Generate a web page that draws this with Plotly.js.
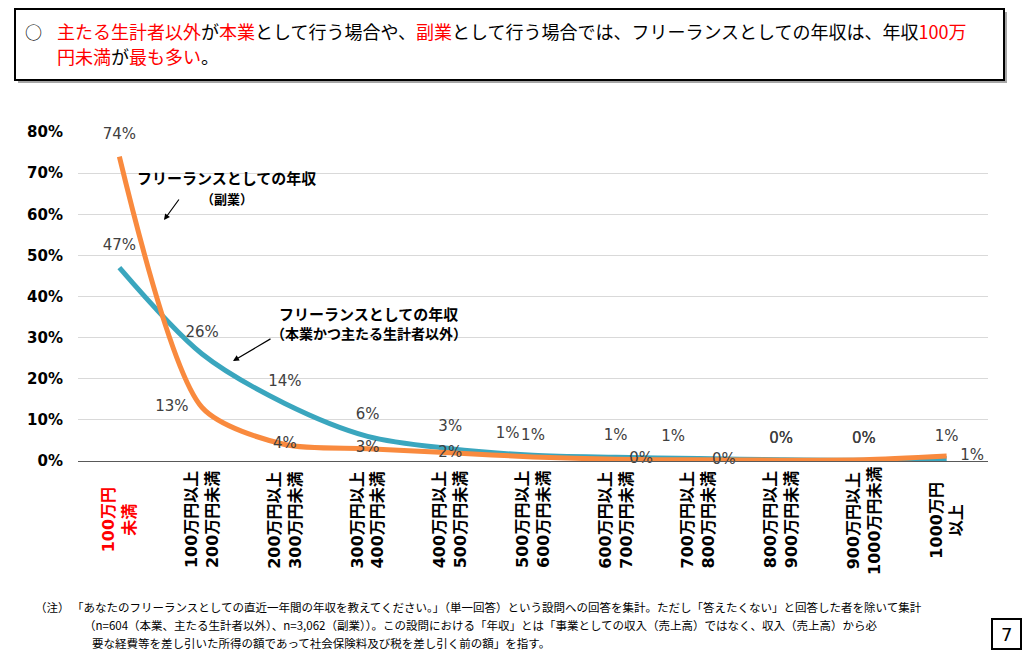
<!DOCTYPE html>
<html>
<head>
<meta charset="utf-8">
<script src="https://cdn.plot.ly/plotly-3.0.1.min.js"></script>
<style>
html,body{margin:0;padding:0;background:#fff;}
#chart{width:1024px;height:651px;}
</style>
</head>
<body>
<div id="chart"></div>
<script>
// ---- data ----
const categories = ['100万円未満','100万円以上200万円未満','200万円以上300万円未満','300万円以上400万円未満','400万円以上500万円未満','500万円以上600万円未満','600万円以上700万円未満','700万円以上800万円未満','800万円以上900万円未満','900万円以上1000万円未満','1000万円以上'];
const tickLine1 = ['100万円','100万円以上','200万円以上','300万円以上','400万円以上','500万円以上','600万円以上','700万円以上','800万円以上','900万円以上','1000万円'];
const tickLine2 = ['未満','200万円未満','300万円未満','400万円未満','500万円未満','600万円未満','700万円未満','800万円未満','900万円未満','1000万円未満','以上'];
const honbyoValues = [0.47,0.26,0.14,0.06,0.03,0.014,0.009,0.006,0.003,0.002,0.006];
const fukugyoValues = [0.74,0.13,0.04,0.03,0.02,0.01,0.004,0.003,0.002,0.003,0.012];
const honbyoName = 'フリーランスとしての年収（本業かつ主たる生計者以外）';
const fukugyoName = 'フリーランスとしての年収（副業）';

// ---- style ----
const CJK = '"Noto Sans CJK JP", sans-serif';
const NUM = '"DejaVu Sans", "Noto Sans CJK JP", sans-serif';
const blue = '#3AA6BE';
const orange = '#F98A3E';
const red = '#FF0000';
const honbyoPos = ['top center','top center','top center','top center','top center','top left','top center','top left','top center','top center','top center'];
const fukugyoPos = ['top center','middle left','middle center','middle center','middle center','top center','middle right','middle right','top center','top center','middle right'];

// plot area: x 78..988, y 132..461
const L = 78, R = 988, T = 132, B = 461;
const px = v => (v - L) / (R - L);
const py = v => (B - v) / (B - T);

const traces = [
  {
    type:'scatter', mode:'lines+markers+text', name: honbyoName,
    x: categories, y: honbyoValues,
    line:{color:blue, width:5, shape:'spline', smoothing:0.9},
    marker:{size:20, opacity:0, color:blue},
    texttemplate:'%{y:.0%}', textposition: honbyoPos,
    textfont:{family:NUM, size:15, color:'#404040'},
    cliponaxis:false, hoverinfo:'skip'
  },
  {
    type:'scatter', mode:'lines+markers+text', name: fukugyoName,
    x: categories, y: fukugyoValues,
    line:{color:orange, width:5, shape:'spline', smoothing:0.75},
    marker:{size:20, opacity:0, color:orange},
    texttemplate:'%{y:.0%}', textposition: fukugyoPos,
    textfont:{family:NUM, size:15, color:'#404040'},
    cliponaxis:false, hoverinfo:'skip'
  }
];

const annotations = [];
// x-axis category labels (rotated, centered)
categories.forEach((c, i) => {
  annotations.push({
    xref:'x', yref:'paper', x:c, y:py(520),
    text: tickLine1[i] + '<br>' + tickLine2[i],
    textangle:-90, showarrow:false,
    font:{family:NUM, size:16, color: i === 0 ? red : '#000', weight:'bold'},
    xanchor:'center', yanchor:'middle', align:'center'
  });
});

function note(x, y, text, font, xanchor) {
  return {xref:'paper', yref:'paper', x:px(x), y:py(y), text:text, showarrow:false,
          font:font, xanchor:xanchor || 'center', yanchor:'middle', align:'left'};
}

// series call-outs
annotations.push(
  note(226, 177, '<b>フリーランスとしての年収</b>', {family:CJK, size:15, color:'#000'}),
  note(227, 198, '<b>（副業）</b>', {family:CJK, size:13, color:'#000'}),
  {xref:'paper', yref:'paper', x:px(164), y:py(220), text:'', showarrow:true, ax:16, ay:-22, arrowhead:2, arrowsize:1, arrowwidth:1.2, arrowcolor:'#000', standoff:0},
  note(368, 313, '<b>フリーランスとしての年収</b>', {family:CJK, size:15, color:'#000'}),
  note(369, 333, '<b>（本業かつ主たる生計者以外）</b>', {family:CJK, size:14, color:'#000'}),
  {xref:'paper', yref:'paper', x:px(233), y:py(361), text:'', showarrow:true, ax:39, ay:-23, arrowhead:2, arrowsize:1, arrowwidth:1.2, arrowcolor:'#000', standoff:0}
);

// header
const r = s => '<span style="color:' + red + '">' + s + '</span>';
annotations.push(
  note(33, 31, '○', {family:CJK, size:17, color:'#000'}),
  note(55, 31, r('主たる生計者以外') + 'が' + r('本業') + 'として行う場合や、' + r('副業') + 'として行う場合では、フリーランスとしての年収は、年収' + r('100万'),
       {family:CJK, size:18, color:'#000'}, 'left'),
  note(55, 56, r('円未満') + 'が' + r('最も多い') + '。', {family:CJK, size:18, color:'#000'}, 'left')
);

// footnote
const fn = {family:CJK, size:11.5, color:'#000'};
annotations.push(
  note(33, 607, '（注）', fn, 'left'),
  note(70, 607, '「あなたのフリーランスとしての直近一年間の年収を教えてください。」（単一回答）という設問への回答を集計。ただし「答えたくない」と回答した者を除いて集計', fn, 'left'),
  note(82, 625, '（n=604（本業、主たる生計者以外）、n=3,062（副業））。この設問における「年収」とは「事業としての収入（売上高）ではなく、収入（売上高）から必', fn, 'left'),
  note(90, 643, '要な経費等を差し引いた所得の額であって社会保険料及び税を差し引く前の額」を指す。', fn, 'left'),
  note(1006.5, 634, '7', {family:NUM, size:18, color:'#000'})
);

const shapes = [
  {type:'rect', xref:'paper', yref:'paper', x0:px(18), x1:px(1007), y0:py(83), y1:py(12), fillcolor:'#a6a6a6', line:{width:0}, layer:'below'},
  {type:'rect', xref:'paper', yref:'paper', x0:px(15), x1:px(1004), y0:py(80), y1:py(9), fillcolor:'#fff', line:{color:'#000', width:2}, layer:'below'},
  {type:'rect', xref:'paper', yref:'paper', x0:px(992), x1:px(1021), y0:py(649), y1:py(619), fillcolor:'rgba(0,0,0,0)', line:{color:'#000', width:2}}
];

const layout = {
  width:1024, height:651,
  margin:{l:L, r:1024-R, t:T, b:651-B, pad:0},
  paper_bgcolor:'#fff', plot_bgcolor:'#fff',
  showlegend:false,
  font:{family:CJK},
  xaxis:{
    type:'category', categoryorder:'array', categoryarray:categories,
    showticklabels:false, ticks:'', showgrid:false, zeroline:false,
    showline:true, linecolor:'#595959', linewidth:1,
    range:[-0.5, categories.length - 0.5], fixedrange:true
  },
  yaxis:{
    range:[0, 0.8], dtick:0.1, tickformat:'.0%',
    showgrid:true, gridcolor:'#D9D9D9', gridwidth:1,
    zeroline:false, showline:false, ticks:'',
    tickfont:{family:NUM, size:15, color:'#000', weight:'bold'},
    ticklabelstandoff:14, fixedrange:true
  },
  annotations: annotations,
  shapes: shapes
};

Plotly.newPlot('chart', traces, layout, {displayModeBar:false, staticPlot:true});
</script>
</body>
</html>
